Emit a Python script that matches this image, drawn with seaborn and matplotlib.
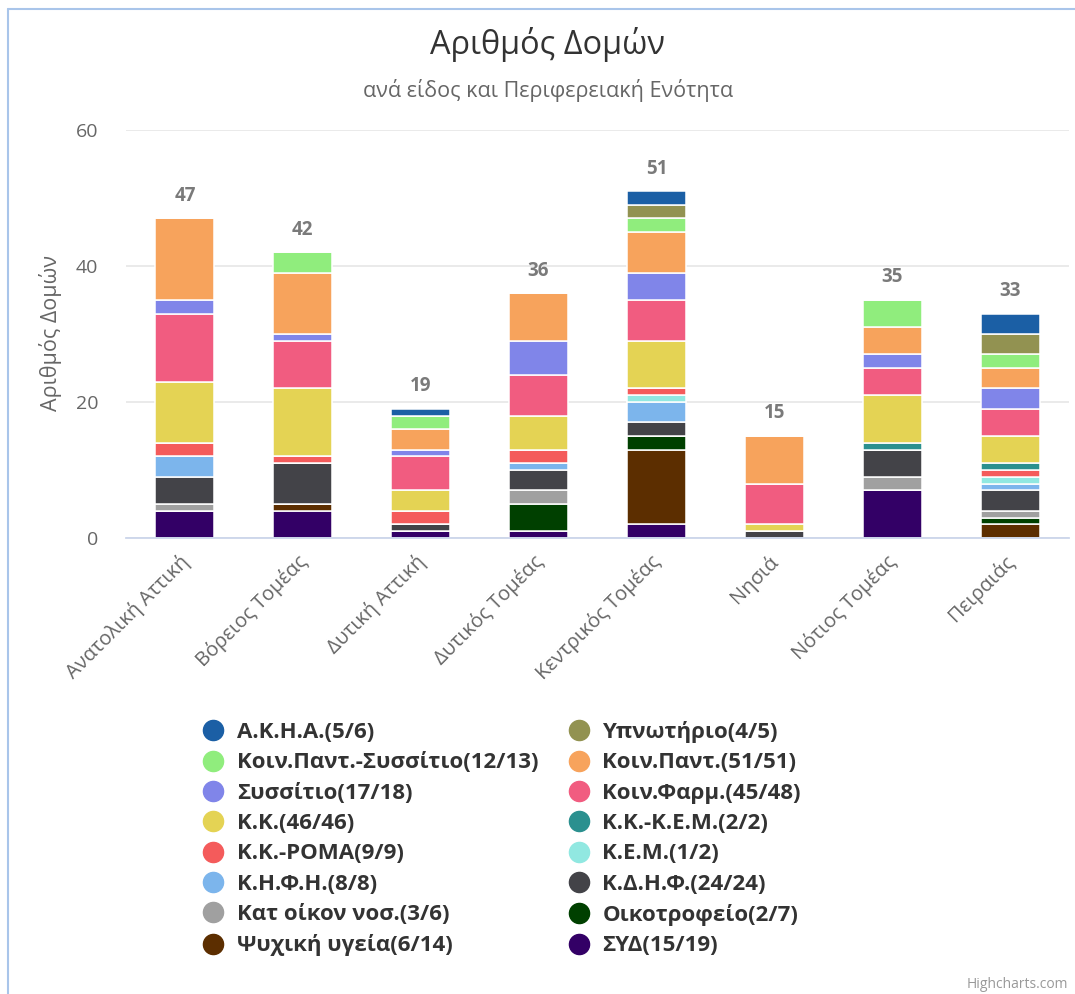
import matplotlib
matplotlib.use("Agg")
import matplotlib.pyplot as plt
import matplotlib.transforms as mtransforms
from matplotlib.lines import Line2D
import numpy as np
import pandas as pd
import seaborn as sns

# ---------------- data ----------------
regions = ['Ανατολική Αττική', 'Βόρειος Τομέας', 'Δυτική Αττική', 'Δυτικός Τομέας',
           'Κεντρικός Τομέας', 'Νησιά', 'Νότιος Τομέας', 'Πειραιάς']

# series listed top of stack first (legend order)
series_names = ['Α.Κ.Η.Α.(5/6)', 'Υπνωτήριο(4/5)', 'Κοιν.Παντ.-Συσσίτιο(12/13)', 'Κοιν.Παντ.(51/51)',
                'Συσσίτιο(17/18)', 'Κοιν.Φαρμ.(45/48)', 'Κ.Κ.(46/46)', 'Κ.Κ.-Κ.Ε.Μ.(2/2)',
                'Κ.Κ.-ΡΟΜΑ(9/9)', 'Κ.Ε.Μ.(1/2)', 'Κ.Η.Φ.Η.(8/8)', 'Κ.Δ.Η.Φ.(24/24)',
                'Κατ οίκον νοσ.(3/6)', 'Οικοτροφείο(2/7)', 'Ψυχική υγεία(6/14)', 'ΣΥΔ(15/19)']

akha          = [0, 0, 1, 0, 2, 0, 0, 3]
ypnotirio     = [0, 0, 0, 0, 2, 0, 0, 3]
koinpant_syss = [0, 3, 2, 0, 2, 0, 4, 2]
koinpant      = [12, 9, 3, 7, 6, 7, 4, 3]
syssitio      = [2, 1, 1, 5, 4, 0, 2, 3]
koinfarm      = [10, 7, 5, 6, 6, 6, 4, 4]
kk            = [9, 10, 3, 5, 7, 1, 7, 4]
kk_kem        = [0, 0, 0, 0, 0, 0, 1, 1]
kk_roma       = [2, 1, 2, 2, 1, 0, 0, 1]
kem           = [0, 0, 0, 0, 1, 0, 0, 1]
kfhh          = [3, 0, 0, 1, 3, 0, 0, 1]
kdhf          = [4, 6, 1, 3, 2, 1, 4, 3]
kat_oikon     = [1, 0, 0, 2, 0, 0, 2, 1]
oikotrofeio   = [0, 0, 0, 4, 2, 0, 0, 1]
psyx_ygeia    = [0, 1, 0, 0, 11, 0, 0, 2]
syd           = [4, 4, 1, 1, 2, 0, 7, 0]

series_values = [akha, ypnotirio, koinpant_syss, koinpant, syssitio, koinfarm, kk, kk_kem,
                 kk_roma, kem, kfhh, kdhf, kat_oikon, oikotrofeio, psyx_ygeia, syd]

series_colors = ['#1b5fa5', '#929251', '#90ed7d', '#f7a35c', '#8085e9', '#f15c80', '#e4d354',
                 '#2b908f', '#f45b5b', '#91e8e1', '#7cb5ec', '#434348', '#a0a0a0', '#004000',
                 '#5c2e00', '#330066']

# ---------------- build table ----------------
rows = []
for name, vals in zip(series_names, series_values):
    for i, v in enumerate(vals):
        rows.append({'region': i, 'series': name, 'count': v})
df = pd.DataFrame(rows)
palette = dict(zip(series_names, series_colors))
totals = df.groupby('region')['count'].sum()

# ---------------- style ----------------
sns.set_theme(style="white")
plt.rcParams['font.family'] = ['Open Sans', 'DejaVu Sans']

W, H = 1075, 994
fig = plt.figure(figsize=(W / 100, H / 100), dpi=100)
ax = fig.add_axes([126 / W, 1 - 538 / H, (1069 - 126) / W, (538 - 130) / H])

sns.histplot(data=df, x='region', weights='count', hue='series', hue_order=series_names,
             palette=palette, multiple='stack', discrete=True, shrink=0.5,
             edgecolor='white', linewidth=1.1, alpha=1, legend=False, ax=ax)

ax.set_xlim(-0.5, len(regions) - 0.5)
ax.set_ylim(0, 60)
ax.set_yticks([0, 20, 40, 60])
ax.yaxis.grid(True, color='#e6e6e6', linewidth=1.2)
ax.xaxis.grid(False)
ax.set_axisbelow(True)
for s in ['top', 'right', 'left']:
    ax.spines[s].set_visible(False)
ax.spines['bottom'].set_color('#ccd6eb')
ax.spines['bottom'].set_linewidth(1.3)
ax.set_xlabel('')
ax.set_ylabel('')
ax.tick_params(axis='y', length=0, pad=20, labelsize=14, labelcolor='#666666')
ax.tick_params(axis='x', length=0, pad=15, labelsize=14.5, labelcolor='#666666')
ax.set_xticks(range(len(regions)))
ax.set_xticklabels(regions, rotation=45, ha='right', rotation_mode='anchor', va='center')
offset = mtransforms.ScaledTranslation(1 / 72, 0, fig.dpi_scale_trans)
for lab in ax.get_xticklabels():
    lab.set_transform(lab.get_transform() + offset)

# stack totals
for i, t in totals.items():
    ax.annotate(f'{t}', (i, t), xytext=(0, 9), textcoords='offset points',
                ha='center', va='bottom', fontsize=13.5, fontweight='bold', color='#7a7a7a')

# titles
fig.text(547 / W, 1 - 45 / H, 'Αριθμός Δομών', ha='center', va='center',
         fontsize=23.4, color='#333333')
fig.text(548 / W, 1 - 90 / H, 'ανά είδος και Περιφερειακή Ενότητα', ha='center', va='center',
         fontsize=15.5, color='#666666')
fig.text(51 / W, 1 - 333 / H, 'Αριθμός Δομών', rotation=90, ha='center', va='center',
         fontsize=15.5, color='#666666')
fig.text(1068 / W, 1 - 985 / H, 'Highcharts.com', ha='right', va='center',
         fontsize=10, color='#999999')

# legend (row-wise order, as in the reference: matplotlib fills columns first)
order = list(range(0, len(series_names), 2)) + list(range(1, len(series_names), 2))
handles = [Line2D([0], [0], marker='o', linestyle='none', markersize=14.5,
                  markerfacecolor=series_colors[k], markeredgecolor=series_colors[k])
           for k in order]
labels = [series_names[k] for k in order]
leg = fig.legend(handles, labels, ncol=2, loc='upper left',
                 bbox_to_anchor=(203 / W, 1 - 721 / H), frameon=False,
                 prop={'size': 16, 'weight': 'bold'}, handlelength=0.9, handletextpad=0.63,
                 columnspacing=1.35, labelspacing=0.42, borderpad=0, borderaxespad=0)
for t in leg.get_texts():
    t.set_color('#333333')

# outer frame lines (screenshot border)
fig.add_artist(Line2D([8 / W, 8 / W], [0, 1 - 9 / H], transform=fig.transFigure,
                      color='#a9c5ea', linewidth=1.5))
fig.add_artist(Line2D([8 / W, 1], [1 - 9 / H, 1 - 9 / H], transform=fig.transFigure,
                      color='#a9c5ea', linewidth=1.5))

fig.savefig('out.png', dpi=100, facecolor='white')
